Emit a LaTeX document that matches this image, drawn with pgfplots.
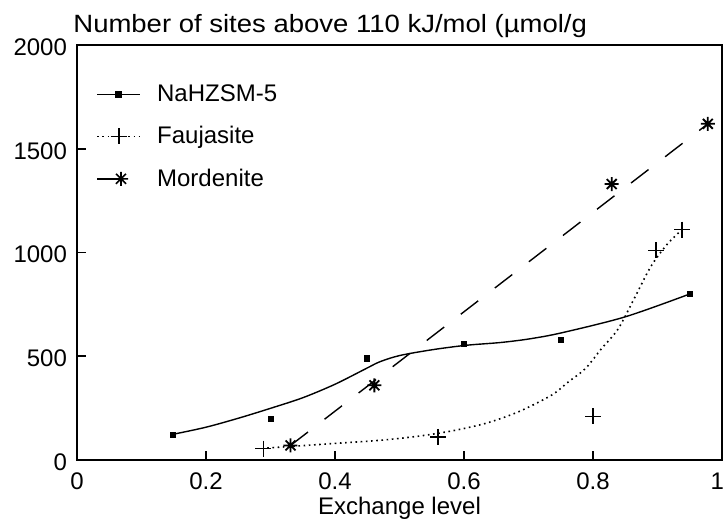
\documentclass[border=0pt]{standalone}
\usepackage{fontspec}
\setmainfont{Liberation Sans}
\usepackage{pgfplots}
\pgfplotsset{compat=1.18}

% eight-ray star for the Mordenite points
\pgfdeclareplotmark{star8}{%
  \pgfpathmoveto{\pgfqpoint{0pt}{\pgfplotmarksize}}\pgfpathlineto{\pgfqpoint{0pt}{-\pgfplotmarksize}}%
  \pgfpathmoveto{\pgfqpoint{\pgfplotmarksize}{0pt}}\pgfpathlineto{\pgfqpoint{-\pgfplotmarksize}{0pt}}%
  \pgfpathmoveto{\pgfqpoint{.707\pgfplotmarksize}{.707\pgfplotmarksize}}\pgfpathlineto{\pgfqpoint{-.707\pgfplotmarksize}{-.707\pgfplotmarksize}}%
  \pgfpathmoveto{\pgfqpoint{-.707\pgfplotmarksize}{.707\pgfplotmarksize}}\pgfpathlineto{\pgfqpoint{.707\pgfplotmarksize}{-.707\pgfplotmarksize}}%
  \pgfusepathqstroke}

\pgfplotsset{
  legline/.style={legend image code/.code={\draw[mark repeat=2,mark phase=2,##1] plot coordinates {(0cm,0cm) (0.38cm,0cm) (0.76cm,0cm)};}},
  legend/.style={legend image code/.code={\draw[mark repeat=2,mark phase=2,##1] plot coordinates {(0cm,0cm) (0.42cm,0cm)};}},
}

\begin{document}
\begin{tikzpicture}
\begin{axis}[
  name=ax,
  scale only axis,
  width=322.5pt, height=207.5pt,
  xmin=0, xmax=1, ymin=0, ymax=2000,
  xtick={0,0.2,0.4,0.6,0.8,1},
  xticklabels={0,0.2,0.4,0.6,0.8,\makebox[2pt][r]{1}},
  ytick={0,500,1000,1500,2000},
  yticklabels={0,500,1000,1500,2000},
  tick align=inside,
  xtick pos=bottom, ytick pos=left,
  major tick length=4.5pt,
  axis line style={line width=0.8pt},
  tick style={line width=0.8pt, black},
  ticklabel style={font=\fontsize{12}{14}\selectfont},
  xticklabel style={anchor=base, yshift=-14.5pt},
  yticklabel style={xshift=-1.5pt, yshift=-1pt},
  /pgf/number format/assume math mode=true,
  every axis x label/.style={at={(axis description cs:0.5,0)}, anchor=base, yshift=-27pt, font=\fontsize{12}{14}\selectfont},
  xlabel={Exchange level},
  legend cell align=left,
  legend style={draw=none, fill=none, at={(0.02,0.925)}, anchor=north west,
    font=\fontsize{12}{14}\selectfont, row sep=7pt,
    /tikz/every odd column/.append style={column sep=6pt}},
]

\addlegendimage{legline, line width=0.7pt, mark=square*, mark size=1.3pt}
\addlegendentry{NaHZSM-5}
\addlegendimage{legline, line width=0.8pt, dash pattern=on 0.8pt off 1.8pt, mark=+, mark size=4pt,
  mark options={solid, line width=0.8pt}}
\addlegendentry{Faujasite}
\addlegendimage{legend, line width=0.7pt, mark=star8, mark size=3.5pt, mark options={line width=0.8pt}}
\addlegendentry{Mordenite}

% NaHZSM-5: fitted curve and measured points
\addplot[black, line width=0.7pt, smooth, forget plot] coordinates {
  (0.149,124) (0.2,158) (0.252,203) (0.303,252) (0.35,300) (0.40,365)
  (0.449,442) (0.47,474) (0.501,504) (0.552,532) (0.604,553) (0.656,566)
  (0.70,583) (0.75,612) (0.85,690) (0.95,800)};
\addplot[black, only marks, mark=square*, mark size=1.3pt, forget plot] coordinates {
  (0.149,122) (0.30,197) (0.45,490) (0.60,558) (0.75,580) (0.95,800)};

% Faujasite: dotted curve and points
\addplot[black, line width=0.8pt, dash pattern=on 0.8pt off 1.8pt, smooth, forget plot] coordinates {
  (0.295,58) (0.33,65) (0.40,80) (0.47,95) (0.53,115) (0.581,140) (0.634,177)
  (0.685,233) (0.736,313) (0.762,377) (0.788,440) (0.813,536) (0.839,632)
  (0.866,791) (0.890,934) (0.915,1040) (0.938,1110)};
\addplot[black, only marks, mark=+, mark size=4pt, mark options={line width=0.8pt}, forget plot] coordinates {
  (0.289,55) (0.56,112) (0.80,210) (0.898,1010) (0.938,1110)};

% Mordenite: dashed line and points
\addplot[black, line width=0.7pt, dash pattern=on 11pt off 10.5pt, forget plot] coordinates {
  (0.331,70) (0.978,1620)};
\addplot[black, only marks, mark=star8, mark size=3.5pt, mark options={line width=0.9pt}, forget plot] coordinates {
  (0.331,70) (0.461,360) (0.829,1330) (0.978,1620)};
\end{axis}

\node[anchor=base west, inner sep=0pt, font=\fontsize{12.5}{15}\selectfont]
  at ([shift={(-2pt,6pt)}]ax.north west) {\scalebox{1.1}[1]{Number of sites above 110 kJ/mol (µmol/g}};

\pgfresetboundingbox
\path[use as bounding box] ([shift={(-38.5pt,-29pt)}]ax.south west) rectangle ([shift={(1.5pt,22.5pt)}]ax.north east);
\end{tikzpicture}
\end{document}
